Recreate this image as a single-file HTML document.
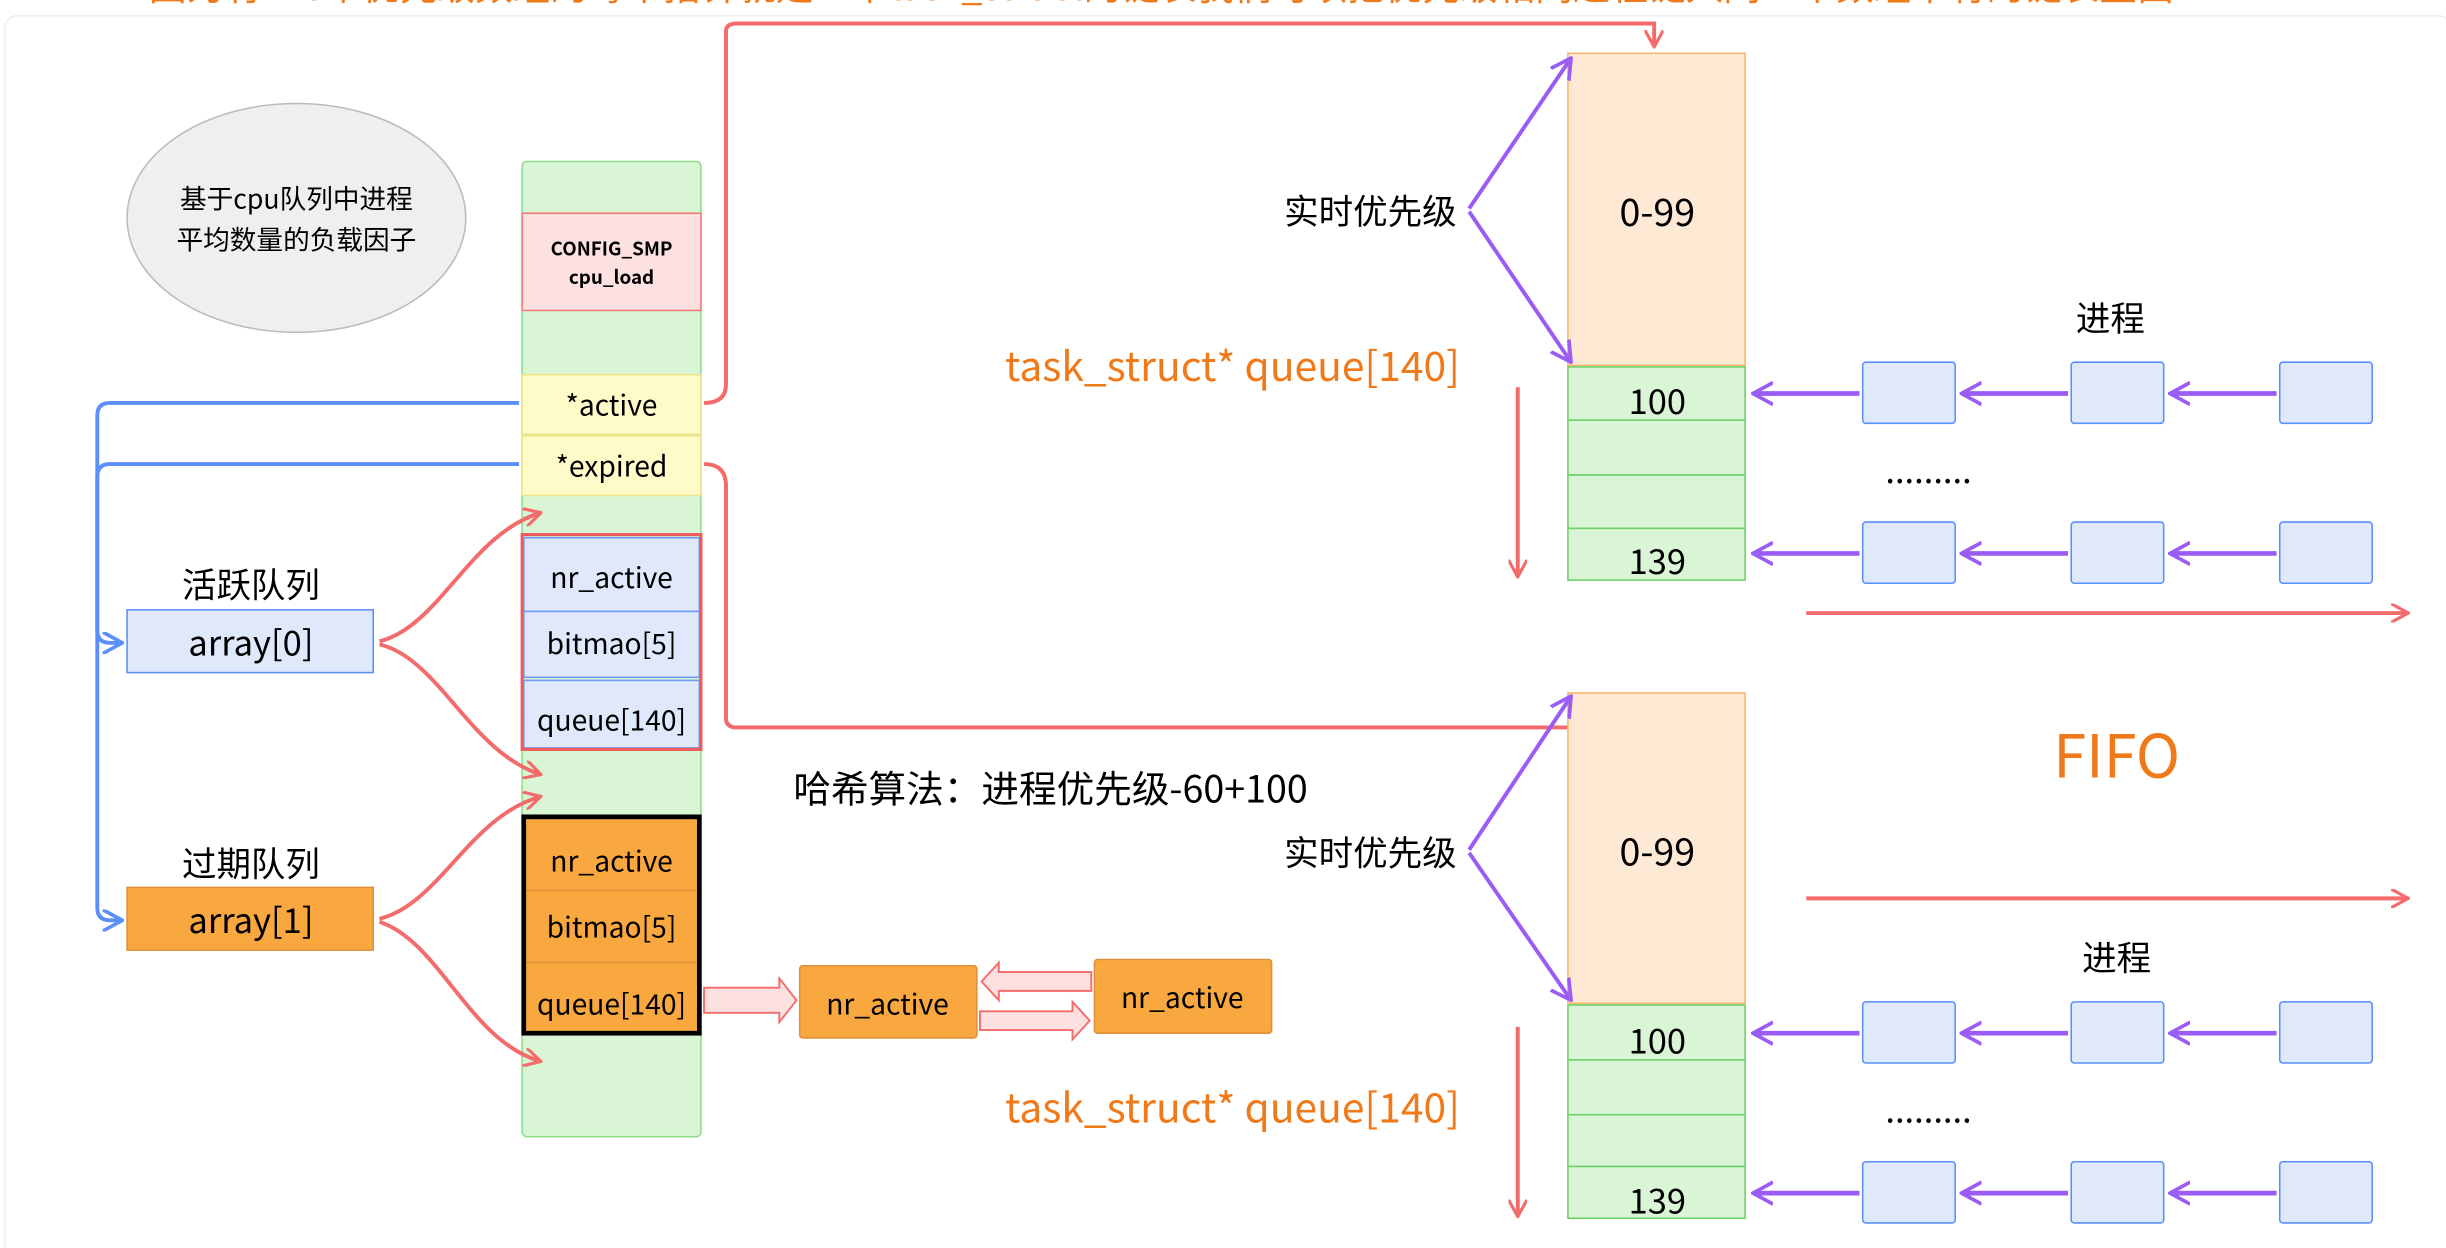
<!DOCTYPE html>
<html><head><meta charset="utf-8"><style>
html,body{margin:0;padding:0;background:#fff;width:2446px;height:1248px;overflow:hidden}
svg text{font-family:"Noto Sans CJK SC","Liberation Sans",sans-serif}
</style></head><body>
<svg width="2446" height="1248" viewBox="0 0 1560 796" xmlns="http://www.w3.org/2000/svg">
<defs>
<marker id="ar" viewBox="0 0 12 12" refX="11" refY="6" markerWidth="12" markerHeight="12" markerUnits="userSpaceOnUse" orient="auto"><path d="M0,0 L11,6 L0,12" fill="none" stroke="#f46b6b" stroke-width="2"/></marker>
<marker id="ab" viewBox="0 0 12 12" refX="11" refY="6" markerWidth="14" markerHeight="14" markerUnits="userSpaceOnUse" orient="auto"><path d="M0,0 L11,6 L0,12" fill="none" stroke="#5b8ff9" stroke-width="2"/></marker>
<marker id="ap" viewBox="0 0 12 12" refX="11" refY="6" markerWidth="14" markerHeight="16" markerUnits="userSpaceOnUse" orient="auto"><path d="M0,0 L11,6 L0,12" fill="none" stroke="#9a5cf5" stroke-width="2"/></marker>
</defs>
<rect x="3" y="10" width="1560" height="800" rx="8" fill="#fff" stroke="#eee"/>
<text x="95" y="0" font-size="24" fill="#f07a1a">因为有140个优先级数组的每个指针就是一个task_struct的链表我们可以把优先级相同进程链入同一个数组中有的链表里面</text>
<ellipse cx="189" cy="139" rx="108" ry="73" fill="#eeeff1" stroke="#bbb"/>
<text x="189" y="133" font-size="17" text-anchor="middle">基于cpu队列中进程</text>
<text x="189" y="159" font-size="17" text-anchor="middle">平均数量的负载因子</text>
<rect x="333" y="103" width="114" height="622" rx="3" fill="#d9f5d6" stroke="#8fdc8a"/>
<rect x="333" y="136" width="114" height="62" fill="#fde0e0" stroke="#f47a7a"/>
<text x="390" y="163" font-size="12" font-weight="bold" text-anchor="middle">CONFIG_SMP</text>
<text x="390" y="181" font-size="12" font-weight="bold" text-anchor="middle">cpu_load</text>
<rect x="333" y="239" width="114" height="38" fill="#fffbc9" stroke="#ede48a"/>
<rect x="333" y="278" width="114" height="38" fill="#fffbc9" stroke="#ede48a"/>
<text x="390" y="265" font-size="18" text-anchor="middle">*active</text>
<text x="390" y="304" font-size="18" text-anchor="middle">*expired</text>
<rect x="334" y="343" width="112" height="47" fill="#dfe9fb" stroke="#6d9bf5"/>
<rect x="334" y="390" width="112" height="42" fill="#dfe9fb" stroke="#6d9bf5"/>
<rect x="334" y="434" width="112" height="43" fill="#dfe9fb" stroke="#6d9bf5"/>
<rect x="333" y="341" width="114" height="137" fill="none" stroke="#f05a5a" stroke-width="2"/>
<text x="390" y="375" font-size="18" text-anchor="middle">nr_active</text>
<text x="390" y="417" font-size="18" text-anchor="middle">bitmao[5]</text>
<text x="390" y="466" font-size="18" text-anchor="middle">queue[140]</text>
<rect x="334" y="522" width="112" height="46" fill="#f9a83f" stroke="#e0903a"/>
<rect x="334" y="568" width="112" height="46" fill="#f9a83f" stroke="#e0903a"/>
<rect x="334" y="614" width="112" height="45" fill="#f9a83f" stroke="#e0903a"/>
<rect x="334" y="521" width="112" height="138" fill="none" stroke="#000" stroke-width="3"/>
<text x="390" y="556" font-size="18" text-anchor="middle">nr_active</text>
<text x="390" y="598" font-size="18" text-anchor="middle">bitmao[5]</text>
<text x="390" y="647" font-size="18" text-anchor="middle">queue[140]</text>
<text x="160" y="381" font-size="22" text-anchor="middle">活跃队列</text>
<rect x="81" y="389" width="157" height="40" fill="#dfe9fb" stroke="#5b8ff9"/>
<text x="160" y="418" font-size="22" text-anchor="middle">array[0]</text>
<text x="160" y="559" font-size="22" text-anchor="middle">过期队列</text>
<rect x="81" y="566" width="157" height="40" fill="#f9a83f" stroke="#e0903a"/>
<text x="160" y="595" font-size="22" text-anchor="middle">array[1]</text>
<g fill="none" stroke="#5b8ff9" stroke-width="2.5">
<path d="M331,257 H70 Q62,257 62,265 V579 Q62,587 70,587 H78" marker-end="url(#ab)"/>
<path d="M331,296 H70 Q62,296 62,304 V402 Q62,410 70,410 H78" marker-end="url(#ab)"/>
</g>
<g fill="none" stroke="#f46b6b" stroke-width="2.5">
<path d="M242,409 C280,400 300,340 345,327" marker-end="url(#ar)"/>
<path d="M242,411 C280,420 300,480 345,494" marker-end="url(#ar)"/>
<path d="M242,586 C280,577 300,520 345,508" marker-end="url(#ar)"/>
<path d="M242,588 C280,600 300,665 345,677" marker-end="url(#ar)"/>
<path d="M449,257 Q463,257 463,245 V20 Q463,15 470,15 H1055 V30" marker-end="url(#ar)"/>
<path d="M449,296 Q463,296 463,310 V458 Q463,464 470,464 H1055 V449" marker-end="url(#ar)"/>
<path d="M968,247 V368" marker-end="url(#ar)"/>
<path d="M968,655 V776" marker-end="url(#ar)"/>
<path d="M1152,391 H1536" marker-end="url(#ar)"/>
<path d="M1152,573 H1536" marker-end="url(#ar)"/>
</g>
<g font-size="22" text-anchor="middle">
<rect x="1000" y="34" width="113" height="199" fill="#fde9d4" stroke="#f9b56a"/>
<text x="1057" y="144" font-size="24">0-99</text>
<rect x="1000" y="234" width="113" height="34" fill="#d9f5d6" stroke="#6fd06a"/>
<rect x="1000" y="268" width="113" height="35" fill="#d9f5d6" stroke="#6fd06a"/>
<rect x="1000" y="303" width="113" height="34" fill="#d9f5d6" stroke="#6fd06a"/>
<rect x="1000" y="337" width="113" height="33" fill="#d9f5d6" stroke="#6fd06a"/>
<text x="1057" y="264">100</text><text x="1057" y="366">139</text>
<rect x="1000" y="442" width="113" height="198" fill="#fde9d4" stroke="#f9b56a"/>
<text x="1057" y="552" font-size="24">0-99</text>
<rect x="1000" y="641" width="113" height="35" fill="#d9f5d6" stroke="#6fd06a"/>
<rect x="1000" y="676" width="113" height="35" fill="#d9f5d6" stroke="#6fd06a"/>
<rect x="1000" y="711" width="113" height="33" fill="#d9f5d6" stroke="#6fd06a"/>
<rect x="1000" y="744" width="113" height="33" fill="#d9f5d6" stroke="#6fd06a"/>
<text x="1057" y="672">100</text><text x="1057" y="774">139</text>
<text x="874" y="143">实时优先级</text>
<text x="874" y="552">实时优先级</text>
<text x="1346" y="211">进程</text>
<text x="1350" y="619">进程</text>
<text x="1230" y="308">.........</text>
<text x="1230" y="716">.........</text>
</g>
<g fill="none" stroke="#9a5cf5" stroke-width="2.5">
<path d="M937,133 L1002,37" marker-end="url(#ap)"/>
<path d="M937,135 L1002,231" marker-end="url(#ap)"/>
<path d="M937,542 L1002,444" marker-end="url(#ap)"/>
<path d="M937,544 L1002,638" marker-end="url(#ap)"/>
</g>
<g fill="#dfe9fb" stroke="#5b8ff9">
<rect x="1188" y="231" width="59" height="39" rx="2"/><rect x="1321" y="231" width="59" height="39" rx="2"/><rect x="1454" y="231" width="59" height="39" rx="2"/>
<rect x="1188" y="333" width="59" height="39" rx="2"/><rect x="1321" y="333" width="59" height="39" rx="2"/><rect x="1454" y="333" width="59" height="39" rx="2"/>
<rect x="1188" y="639" width="59" height="39" rx="2"/><rect x="1321" y="639" width="59" height="39" rx="2"/><rect x="1454" y="639" width="59" height="39" rx="2"/>
<rect x="1188" y="741" width="59" height="39" rx="2"/><rect x="1321" y="741" width="59" height="39" rx="2"/><rect x="1454" y="741" width="59" height="39" rx="2"/>
</g>
<g fill="none" stroke="#9a5cf5" stroke-width="3">
<path d="M1186,251 H1118" marker-end="url(#ap)"/><path d="M1319,251 H1251" marker-end="url(#ap)"/><path d="M1452,251 H1384" marker-end="url(#ap)"/>
<path d="M1186,353 H1118" marker-end="url(#ap)"/><path d="M1319,353 H1251" marker-end="url(#ap)"/><path d="M1452,353 H1384" marker-end="url(#ap)"/>
<path d="M1186,659 H1118" marker-end="url(#ap)"/><path d="M1319,659 H1251" marker-end="url(#ap)"/><path d="M1452,659 H1384" marker-end="url(#ap)"/>
<path d="M1186,761 H1118" marker-end="url(#ap)"/><path d="M1319,761 H1251" marker-end="url(#ap)"/><path d="M1452,761 H1384" marker-end="url(#ap)"/>
</g>
<text x="786" y="243" font-size="26" fill="#f07a1a" text-anchor="middle">task_struct* queue[140]</text>
<text x="786" y="716" font-size="26" fill="#f07a1a" text-anchor="middle">task_struct* queue[140]</text>
<text x="1350" y="496" font-size="38" fill="#f07a1a" text-anchor="middle">FIFO</text>
<text x="670" y="512" font-size="24" text-anchor="middle">哈希算法：进程优先级-60+100</text>
<g fill="#fde0e0" stroke="#f46b6b" stroke-width="1.2">
<path d="M449,630 H497 V624 L508,638 L497,652 V646 H449 Z"/>
<path d="M696,620 H637 V614 L626,626 L637,638 V632 H696 Z"/>
<path d="M625,645 H684 V639 L695,651 L684,663 V657 H625 Z"/>
</g>
<rect x="510" y="616" width="113" height="46" rx="2" fill="#f9a83f" stroke="#e0903a"/>
<text x="566" y="647" font-size="18" text-anchor="middle">nr_active</text>
<rect x="698" y="612" width="113" height="47" rx="2" fill="#f9a83f" stroke="#e0903a"/>
<text x="754" y="643" font-size="18" text-anchor="middle">nr_active</text>
</svg>
</body></html>
